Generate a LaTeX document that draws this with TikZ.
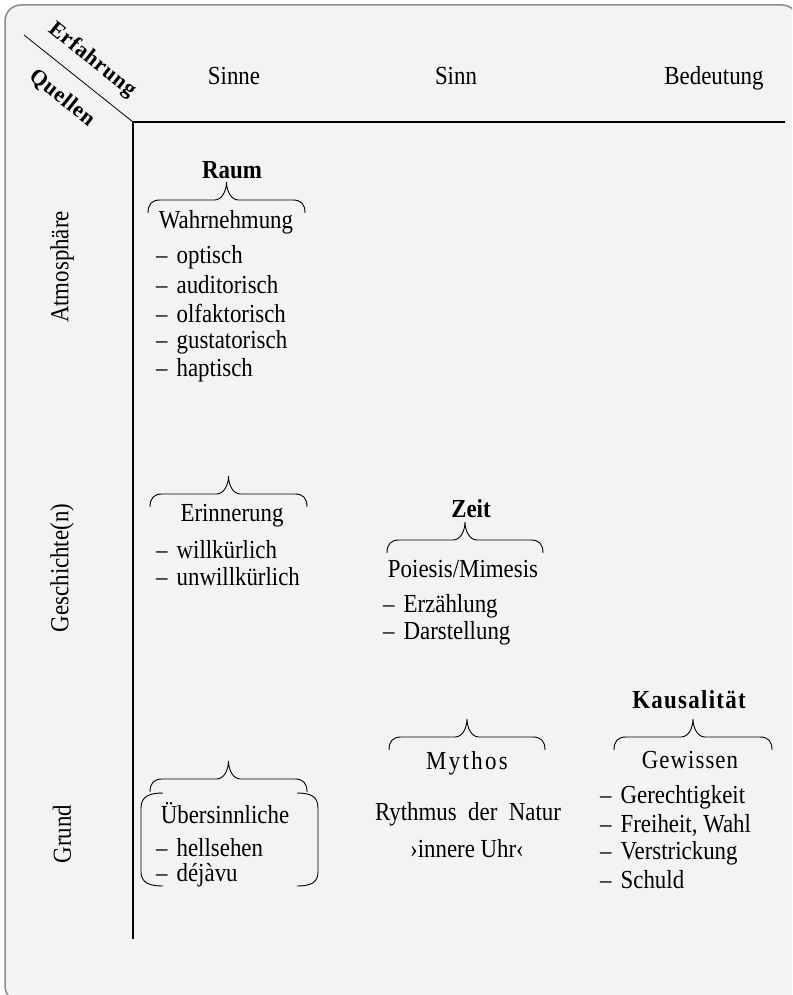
\documentclass[tikz,border=0pt]{standalone}
\usepackage{fontspec}
\setmainfont[FakeStretch=0.88]{Liberation Serif}
\newfontfamily\diagfont[LetterSpace=3]{Liberation Serif}
\usetikzlibrary{calc}
\definecolor{paper}{HTML}{F3F3F3}
\definecolor{rim}{HTML}{8C8C8C}

\tikzset{
  txt/.style={inner sep=0pt, font=\fontsize{26}{30}\selectfont},
  bold/.style={txt, font=\fontsize{26}{30}\selectfont\bfseries},
  colhead/.style={txt, anchor=base},
  entry/.style={txt, anchor=west},
  rowhead/.style={txt, rotate=90},
  corner/.style={inner sep=0pt, rotate=-38.6, font=\diagfont\fontsize{22}{26}\selectfont\bfseries},
  brc/.style={line width=0.9pt},
}
\newcommand\li{--\hspace{9pt}}
\newcommand\spaced[2]{{\addfontfeature{LetterSpace=#1}#2}}

\begin{document}
\begin{tikzpicture}[x=1pt,y=-1pt]
\useasboundingbox (0,0) rectangle (792,995);
\clip (0,0) rectangle (792,995);
\draw[rim, fill=paper, line width=1.5pt, rounded corners=16pt] (5,5) rectangle (798,1002);

\def\topbrace#1#2{% curly brace over a cell, #1 left end, #2 right end
  \draw[brc] (#1) .. controls +(0,-9) and +(-8,0) .. ($(#1)+(12,-13)$)
    -- ($(#1)!.5!(#2)+(-12,-13)$) .. controls +(8,0) and +(0,8) .. ($(#1)!.5!(#2)+(0,-31)$)
    .. controls +(0,8) and +(-8,0) .. ($(#1)!.5!(#2)+(12,-13)$)
    -- ($(#2)+(-12,-13)$) .. controls +(8,0) and +(0,-9) .. (#2);}

% axes
\coordinate (o) at (133,122);
\coordinate (diag) at (24,35);
\coordinate (xend) at (785,122);
\coordinate (yend) at (133,939);
\draw[line width=0.8pt] (diag) -- (o);
\draw[line width=1.3pt] (xend) -- (o) -- (yend);

\node[corner] (erf) at (92,60) {Erfahrung};
\node[corner] (que) at (62,98) {Quellen};

\node[colhead] (sinne) at (234,85) {Sinne};
\node[colhead] (sinn) at (456,85) {Sinn};
\node[colhead] (bed) at (714,85) {Bedeutung};

\node[rowhead] (atm) at (62,267) {Atmosphäre};
\node[rowhead] (ges) at (62,568) {Geschichte(n)};
\node[rowhead] (grund) at (62,834) {Grund};

% Raum
\node[bold] (raum) at (232,170) {Raum};
\coordinate (raumL) at (148,213);
\coordinate (raumR) at (305,213);
\topbrace{raumL}{raumR}
\node[txt] (wahr) at (226,222) {Wahrnehmung};
\node[entry] (opt) at (156,257) {\li optisch};
\node[entry] (aud) at (156,285) {\li auditorisch};
\node[entry] (olf) at (156,313) {\li olfaktorisch};
\node[entry] (gus) at (156,342) {\li gustatorisch};
\node[entry] (hap) at (156,370) {\li haptisch};

% Erinnerung
\coordinate (erL) at (150,507);
\coordinate (erR) at (307,507);
\topbrace{erL}{erR}
\node[txt] (erin) at (232,516) {Erinnerung};
\node[entry] (will) at (156,550) {\li willkürlich};
\node[entry] (unwill) at (156,577) {\li unwillkürlich};

% Zeit
\node[bold] (zeit) at (471,509) {Zeit};
\coordinate (zeitL) at (387,553);
\coordinate (zeitR) at (543,553);
\topbrace{zeitL}{zeitR}
\node[txt] (poi) at (463,569) {Poiesis/Mimesis};
\node[entry] (erz) at (383,606) {\li Erzählung};
\node[entry] (dar) at (383,633) {\li Darstellung};

% Mythos
\coordinate (myL) at (389,750);
\coordinate (myR) at (545,750);
\topbrace{myL}{myR}
\node[txt] (myth) at (467,763) {\spaced{9}{Mythos}};
\node[txt] (ryth) at (468,814) {Rythmus\ \ der\ \ Natur};
\node[txt] (uhr) at (467,849) {›innere Uhr‹};

% Kausalitaet
\node[bold] (kaus) at (689,700) {\spaced{5}{Kausalität}};
\coordinate (kaL) at (614,750);
\coordinate (kaR) at (772,750);
\topbrace{kaL}{kaR}
\node[txt] (gew) at (690,760) {\spaced{4}{Gewissen}};
\node[entry] (ger) at (600,797) {\li Gerechtigkeit};
\node[entry] (frei) at (600,825) {\li Freiheit, Wahl};
\node[entry] (ver) at (600,853) {\li Verstrickung};
\node[entry] (sch) at (600,880) {\li Schuld};

% Uebersinnliche
\coordinate (ueL) at (150,792);
\coordinate (ueR) at (307,792);
\topbrace{ueL}{ueR}
\node[txt] (ueber) at (225,813) {Übersinnliche};
\node[entry] (hell) at (156,848) {\li hellsehen};
\node[entry] (deja) at (156,875) {\li déjàvu};
\draw[brc] (163,793) .. controls (150,793) and (141,796) .. (141,808) -- (141,872)
  .. controls (141,883) and (150,886) .. (163,886);
\draw[brc] (297,793) .. controls (310,793) and (318,796) .. (318,808) -- (318,872)
  .. controls (318,883) and (310,886) .. (297,886);
\end{tikzpicture}
\end{document}
